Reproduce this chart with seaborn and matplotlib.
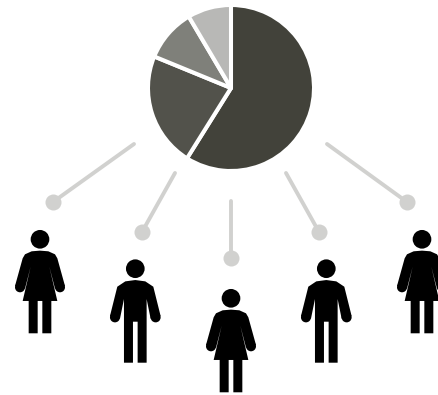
import numpy as np
import pandas as pd
import matplotlib
matplotlib.use("Agg")
import matplotlib.pyplot as plt
from matplotlib.patches import Polygon, Circle
import seaborn as sns

W, H = 439, 395
# pie shares, clockwise from 12 o'clock
shares = [58.9, 22.3, 10.3, 8.5]
pie_colors = ["#42423a", "#52524b", "#7f807a", "#b8b8b6"]
pie_center = (231, 88)
pie_radius = 83

# connectors: start point and dot (pixel layout)
line_start_x = [134, 175, 231, 286, 327]
line_start_y = [144, 173, 201, 173, 144]
dot_x = [53, 142, 231, 319, 407]
dot_y = [202, 232, 258, 232, 202]

# people: head centre and type
head_x = [40, 135.3, 231, 326.3, 422]
head_y = [239.3, 268.7, 298.3, 268.7, 239.3]
kinds = ["w", "m", "w", "m", "w"]

# half outlines (3x pixel units relative to head centre, left side, top to bottom)
woman_half = [(0, 34), (-25, 36), (-45, 45), (-52, 57), (-75, 140), (-45, 148),
              (-28, 82), (-52, 185), (-34, 185), (-34, 282),
              (-7, 282), (-7, 185), (0, 185)]
man_half = [(0, 34), (-30, 38), (-54, 54), (-76, 142), (-46, 150),
            (-34, 91), (-34, 282), (-7, 282), (-7, 159), (0, 159)]
woman_hand = (-60, 144)
man_hand = (-61, 146)
hand_r = 15
head_r = 28 / 3
GREY = "#d1d1cf"

sns.set_theme(style="white")
fig = plt.figure(figsize=(W / 100, H / 100), dpi=100, facecolor="white")
ax = fig.add_axes([0, 0, 1, 1])


def fy(v):
    return H - np.asarray(v, dtype=float)


ax.pie(shares, colors=pie_colors, startangle=90, counterclock=False,
       center=(pie_center[0], H - pie_center[1]), radius=pie_radius, frame=True,
       wedgeprops=dict(edgecolor="white", linewidth=2.9, joinstyle="round"))

lines = pd.DataFrame({
    "id": list(range(5)) * 2,
    "x": line_start_x + dot_x,
    "y": list(fy(line_start_y)) + list(fy(dot_y)),
})
sns.lineplot(data=lines, x="x", y="y", units="id", estimator=None, sort=False,
             color=GREY, linewidth=2.8, ax=ax, legend=False)
sns.scatterplot(x=dot_x, y=fy(dot_y), s=133, color=GREY, linewidth=0, ax=ax, legend=False, zorder=3)

for hx, hy, kind in zip(head_x, head_y, kinds):
    half = woman_half if kind == "w" else man_half
    hand = woman_hand if kind == "w" else man_hand
    left = [(hx + a / 3, H - (hy + b / 3)) for a, b in half]
    right = [(hx - a / 3, H - (hy + b / 3)) for a, b in reversed(half)]
    ax.add_patch(Polygon(left + right, closed=True, facecolor="black", edgecolor="none", zorder=4))
    ax.add_patch(Circle((hx, H - hy), head_r, facecolor="black", edgecolor="none", zorder=4))
    for sign in (1, -1):
        ax.add_patch(Circle((hx + sign * hand[0] / 3, H - (hy + hand[1] / 3)), hand_r / 3,
                            facecolor="black", edgecolor="none", zorder=4))

ax.set_xlim(0, W)
ax.set_ylim(0, H)
ax.set_aspect("equal")
ax.axis("off")
fig.savefig("out.png", dpi=100, facecolor="white")
